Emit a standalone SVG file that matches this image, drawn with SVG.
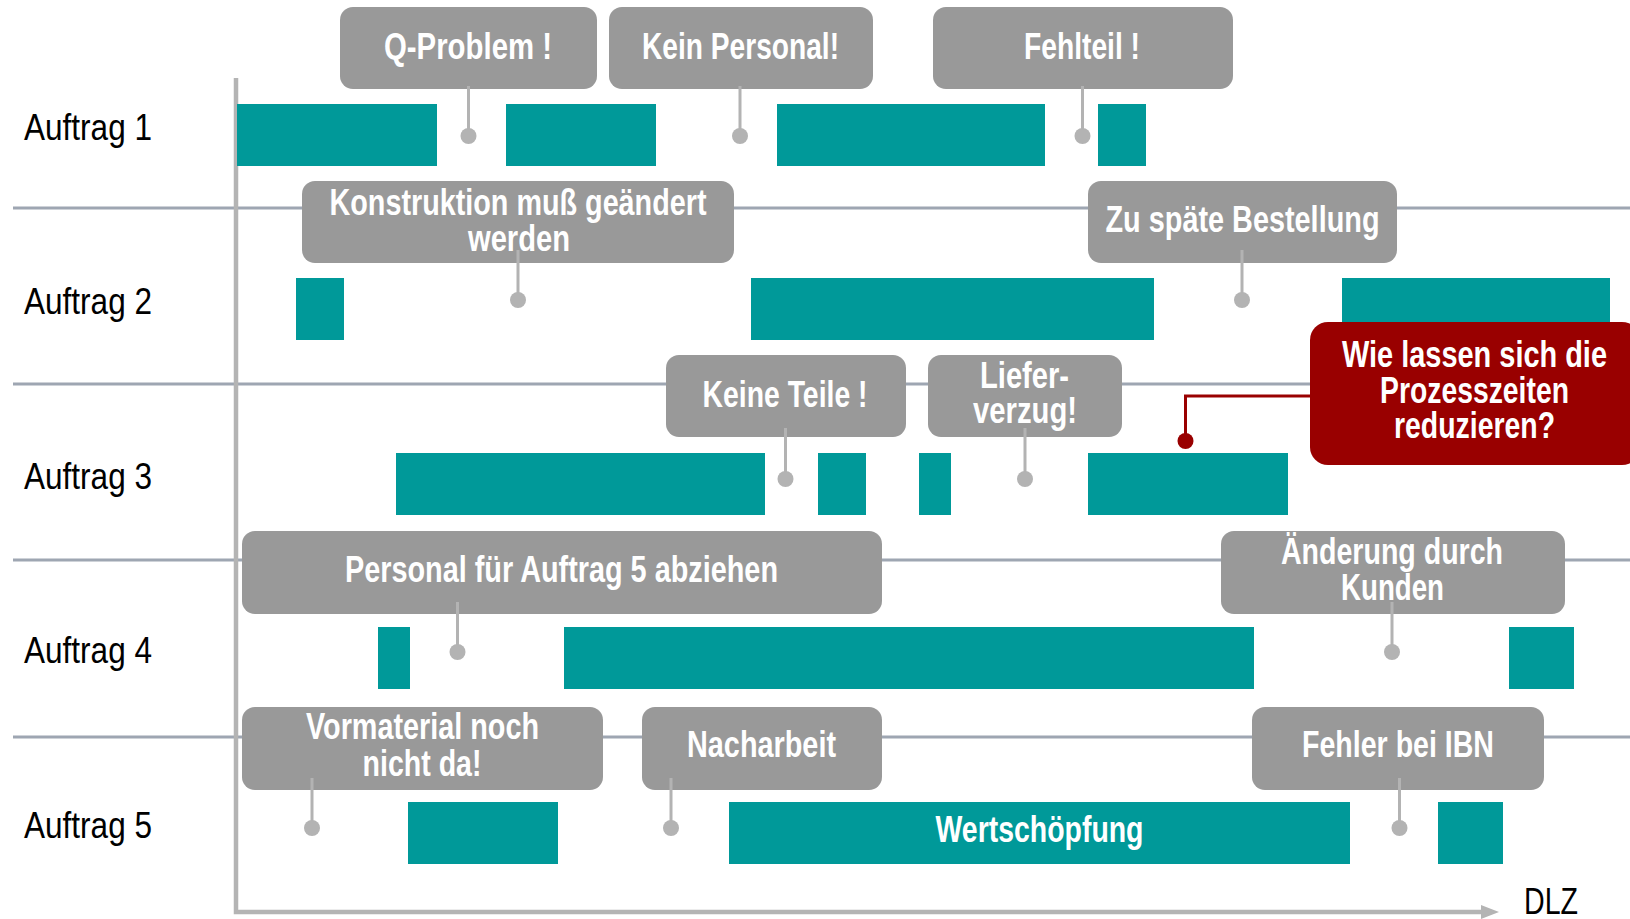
<svg xmlns="http://www.w3.org/2000/svg" width="1630" height="919" viewBox="0 0 1630 919">
<style>
.sep{stroke:#9ea6b2;stroke-width:3;fill:none}
.axis{stroke:#b4b4b4;stroke-width:4.5;fill:none}
.bar{fill:#009999}
.box{fill:#999999}
.red{fill:#990000}
.pin{stroke:#b3b3b3;stroke-width:3;fill:none}
.dot{fill:#b3b3b3}
.lbl{font-family:"Liberation Sans",Arial,sans-serif;font-size:37px;fill:#000}
.bt{font-family:"Liberation Sans",Arial,sans-serif;font-size:36px;font-weight:bold;fill:#fff}
</style>
<rect width="1630" height="919" fill="#fff"/>
<g id="grid">
<line class="sep" x1="13" y1="208" x2="1630" y2="208"/>
<line class="sep" x1="13" y1="384" x2="1630" y2="384"/>
<line class="sep" x1="13" y1="560" x2="1630" y2="560"/>
<line class="sep" x1="13" y1="737" x2="1630" y2="737"/>
</g>
<g id="axes">
<polyline class="axis" points="236,78 236,912 1484,912"/>
<polygon points="1481,905 1499,912 1481,919" fill="#b4b4b4"/>
<text class="lbl" x="1524" y="914" textLength="54" lengthAdjust="spacingAndGlyphs">DLZ</text>
</g>
<g id="labels">
<text class="lbl" x="24" y="140" textLength="128" lengthAdjust="spacingAndGlyphs">Auftrag 1</text>
<text class="lbl" x="24" y="314" textLength="128" lengthAdjust="spacingAndGlyphs">Auftrag 2</text>
<text class="lbl" x="24" y="489" textLength="128" lengthAdjust="spacingAndGlyphs">Auftrag 3</text>
<text class="lbl" x="24" y="663" textLength="128" lengthAdjust="spacingAndGlyphs">Auftrag 4</text>
<text class="lbl" x="24" y="838" textLength="128" lengthAdjust="spacingAndGlyphs">Auftrag 5</text>
</g>
<g id="bars">
<rect class="bar" x="237" y="104" width="200" height="62"/>
<rect class="bar" x="506" y="104" width="150" height="62"/>
<rect class="bar" x="777" y="104" width="268" height="62"/>
<rect class="bar" x="1098" y="104" width="48" height="62"/>
<rect class="bar" x="296" y="278" width="48" height="62"/>
<rect class="bar" x="751" y="278" width="403" height="62"/>
<rect class="bar" x="1342" y="278" width="268" height="62"/>
<rect class="bar" x="396" y="453" width="369" height="62"/>
<rect class="bar" x="818" y="453" width="48" height="62"/>
<rect class="bar" x="919" y="453" width="32" height="62"/>
<rect class="bar" x="1088" y="453" width="200" height="62"/>
<rect class="bar" x="378" y="627" width="32" height="62"/>
<rect class="bar" x="564" y="627" width="690" height="62"/>
<rect class="bar" x="1509" y="627" width="65" height="62"/>
<rect class="bar" x="408" y="802" width="150" height="62"/>
<rect id="wertschoepfung" class="bar" x="729" y="802" width="621" height="62"/>
<rect class="bar" x="1438" y="802" width="65" height="62"/>
<text class="bt" x="935.5" y="842" textLength="208" lengthAdjust="spacingAndGlyphs">Wertschöpfung</text>
</g>
<g id="n-qproblem">
<rect class="box" x="340" y="7" width="257" height="82" rx="13"/>
<text class="bt" x="384" y="59" textLength="168" lengthAdjust="spacingAndGlyphs">Q-Problem !</text>
</g>
<g id="n-keinpersonal">
<rect class="box" x="609" y="7" width="264" height="82" rx="13"/>
<text class="bt" x="642" y="59" textLength="197" lengthAdjust="spacingAndGlyphs">Kein Personal!</text>
</g>
<g id="n-fehlteil">
<rect class="box" x="933" y="7" width="300" height="82" rx="13"/>
<text class="bt" x="1024" y="59" textLength="116" lengthAdjust="spacingAndGlyphs">Fehlteil !</text>
</g>
<g id="n-konstruktion">
<rect class="box" x="302" y="181" width="432" height="82" rx="13"/>
<text class="bt" x="329.5" y="215" textLength="377" lengthAdjust="spacingAndGlyphs">Konstruktion muß geändert</text>
<text class="bt" x="468" y="251" textLength="102" lengthAdjust="spacingAndGlyphs">werden</text>
</g>
<g id="n-bestellung">
<rect class="box" x="1088" y="181" width="309" height="82" rx="13"/>
<text class="bt" x="1105.5" y="232" textLength="274" lengthAdjust="spacingAndGlyphs">Zu späte Bestellung</text>
</g>
<g id="n-keineteile">
<rect class="box" x="666" y="355" width="240" height="82" rx="13"/>
<text class="bt" x="702.5" y="407" textLength="165" lengthAdjust="spacingAndGlyphs">Keine Teile !</text>
</g>
<g id="n-lieferverzug">
<rect class="box" x="928" y="355" width="194" height="82" rx="13"/>
<text class="bt" x="980" y="388" textLength="89" lengthAdjust="spacingAndGlyphs">Liefer-</text>
<text class="bt" x="973" y="423" textLength="104" lengthAdjust="spacingAndGlyphs">verzug!</text>
</g>
<g id="n-personal">
<rect class="box" x="242" y="531" width="640" height="83" rx="13"/>
<text class="bt" x="345" y="582" textLength="433" lengthAdjust="spacingAndGlyphs">Personal für Auftrag 5 abziehen</text>
</g>
<g id="n-aenderung">
<rect class="box" x="1221" y="531" width="344" height="83" rx="13"/>
<text class="bt" x="1281" y="564" textLength="222" lengthAdjust="spacingAndGlyphs">Änderung durch</text>
<text class="bt" x="1341" y="600" textLength="103" lengthAdjust="spacingAndGlyphs">Kunden</text>
</g>
<g id="n-vormaterial">
<rect class="box" x="242" y="707" width="361" height="83" rx="13"/>
<text class="bt" x="306" y="739" textLength="233" lengthAdjust="spacingAndGlyphs">Vormaterial noch</text>
<text class="bt" x="362.5" y="776" textLength="119" lengthAdjust="spacingAndGlyphs">nicht da!</text>
</g>
<g id="n-nacharbeit">
<rect class="box" x="642" y="707" width="240" height="83" rx="13"/>
<text class="bt" x="687" y="757" textLength="149" lengthAdjust="spacingAndGlyphs">Nacharbeit</text>
</g>
<g id="n-fehleribn">
<rect class="box" x="1252" y="707" width="292" height="83" rx="13"/>
<text class="bt" x="1302" y="757" textLength="192" lengthAdjust="spacingAndGlyphs">Fehler bei IBN</text>
</g>
<g id="n-frage">
<rect class="red" x="1310" y="322" width="330" height="143" rx="18"/>
<text class="bt" x="1342" y="367" textLength="265" lengthAdjust="spacingAndGlyphs">Wie lassen sich die</text>
<text class="bt" x="1380" y="403" textLength="189" lengthAdjust="spacingAndGlyphs">Prozesszeiten</text>
<text class="bt" x="1394" y="438" textLength="161" lengthAdjust="spacingAndGlyphs">reduzieren?</text>
</g>
<g id="connectors">
<line class="pin" x1="468.5" y1="86" x2="468.5" y2="136"/><circle class="dot" cx="468.5" cy="136" r="8"/>
<line class="pin" x1="740" y1="86" x2="740" y2="136"/><circle class="dot" cx="740" cy="136" r="8"/>
<line class="pin" x1="1082.5" y1="86" x2="1082.5" y2="136"/><circle class="dot" cx="1082.5" cy="136" r="8"/>
<line class="pin" x1="518" y1="250" x2="518" y2="300"/><circle class="dot" cx="518" cy="300" r="8"/>
<line class="pin" x1="1242" y1="250" x2="1242" y2="300"/><circle class="dot" cx="1242" cy="300" r="8"/>
<line class="pin" x1="785.5" y1="428" x2="785.5" y2="479"/><circle class="dot" cx="785.5" cy="479" r="8"/>
<line class="pin" x1="1025" y1="428" x2="1025" y2="479"/><circle class="dot" cx="1025" cy="479" r="8"/>
<line class="pin" x1="457.5" y1="602" x2="457.5" y2="652"/><circle class="dot" cx="457.5" cy="652" r="8"/>
<line class="pin" x1="1392" y1="602" x2="1392" y2="652"/><circle class="dot" cx="1392" cy="652" r="8"/>
<line class="pin" x1="312" y1="778" x2="312" y2="828"/><circle class="dot" cx="312" cy="828" r="8"/>
<line class="pin" x1="671" y1="778" x2="671" y2="828"/><circle class="dot" cx="671" cy="828" r="8"/>
<line class="pin" x1="1399.5" y1="778" x2="1399.5" y2="828"/><circle class="dot" cx="1399.5" cy="828" r="8"/>
<polyline points="1310,396 1185.5,396 1185.5,441" fill="none" stroke="#990000" stroke-width="3"/>
<circle cx="1185.5" cy="441" r="8" fill="#990000"/>
</g>
</svg>
